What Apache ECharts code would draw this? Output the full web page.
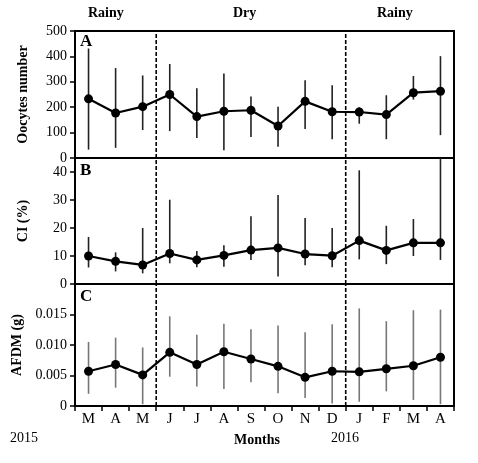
<!DOCTYPE html>
<html><head><meta charset="utf-8">
<script src="https://cdn.jsdelivr.net/npm/echarts@6/dist/echarts.min.js"></script>
<style>html,body{margin:0;padding:0;background:#fff}#c{width:478px;height:463px}</style>
</head><body><div id="c"></div>
<script>
const months = ['M','A','M','J','J','A','S','O','N','D','J','F','M','A'];
const oocytes = [233,177,202,250,163,184,188,126,223,182,181,171,257,263];
const oocytesHi = [431,354,325,370,275,333,242,202,306,286,200,247,323,401];
const oocytesLo = [33,40,110,106,79,31,83,44,114,74,135,74,230,90];
const ci = [10,8.1,6.8,10.9,8.6,10.2,12.1,12.9,10.7,10.1,15.5,12,14.7,14.7];
const ciHi = [16.8,11.3,20,30.1,11.8,13.8,24.2,31.8,23.6,20,40.6,20.8,23.2,46];
const ciLo = [5.9,4.5,3.8,7.4,6,6.2,8.6,2.7,6.7,6,8.8,7.1,10,8.6];
const afdm = [0.0057,0.0068,0.0051,0.0088,0.0068,0.0089,0.0077,0.0065,0.0047,0.0057,0.0056,0.0061,0.0066,0.0080];
const afdmHi = [0.0105,0.0112,0.0096,0.0147,0.0117,0.0135,0.0126,0.0132,0.0121,0.0134,0.0160,0.0139,0.0157,0.0158];
const afdmLo = [0.0020,0.0030,0.0003,0.0048,0.0032,0.0028,0.0039,0.0021,0.0013,0.0004,0.0007,0.0024,0.0010,0.0003];
const dividers = [2, 9]; // season change after these month indexes

const font = 'Liberation Serif';
const chart = echarts.init(document.getElementById('c'));

const panels = [
  {name: 'Oocytes number', top: 31, height: 127, max: 500, interval: 100, v: oocytes, hi: oocytesHi, lo: oocytesLo, bar: '#222', fmt: v => v},
  {name: 'CI (%)', top: 158, height: 126, max: 45, interval: 10, v: ci, hi: ciHi, lo: ciLo, bar: '#222', fmt: v => v},
  {name: 'AFDM (g)', top: 284, height: 122, max: 0.02, interval: 0.005, v: afdm, hi: afdmHi, lo: afdmLo, bar: '#777', fmt: v => v === 0 ? '0' : v.toFixed(3)}
];

const grid = [], xAxis = [], yAxis = [], series = [];
panels.forEach((p, i) => {
  const last = i === 2;
  grid.push({left: 75, right: 24, top: p.top, height: p.height, show: true, borderColor: '#000', borderWidth: 2, backgroundColor: 'transparent'});
  xAxis.push({type: 'category', gridIndex: i, data: months, boundaryGap: true,
    axisLine: {lineStyle: {color: '#000', width: 2}},
    axisTick: {show: last, length: 5, lineStyle: {color: '#000', width: 1.5}},
    axisLabel: {show: last, color: '#000', fontFamily: font, fontSize: 15, margin: 6}});
  yAxis.push({type: 'value', gridIndex: i, min: 0, max: p.max, interval: p.interval, splitLine: {show: false},
    name: p.name, nameLocation: 'middle', nameGap: 45, nameRotate: 90,
    nameTextStyle: {color: '#000', fontFamily: font, fontWeight: 'bold', fontSize: 14},
    axisLine: {show: true, lineStyle: {color: '#000', width: 2}},
    axisTick: {show: true, length: 5, lineStyle: {color: '#000', width: 1.5}},
    axisLabel: {color: '#000', fontFamily: font, fontSize: 14, showMaxLabel: i === 0, formatter: p.fmt}});
  series.push({type: 'custom', xAxisIndex: i, yAxisIndex: i, z: 1,
    data: p.v.map((v, k) => [k, p.lo[k], p.hi[k]]),
    renderItem: (params, api) => {
      const a = api.coord([api.value(0), api.value(1)]);
      const b = api.coord([api.value(0), api.value(2)]);
      return {type: 'line', shape: {x1: a[0], y1: a[1], x2: b[0], y2: b[1]}, style: {stroke: p.bar, lineWidth: 1.6}};
    }, clip: true});
  series.push({type: 'line', xAxisIndex: i, yAxisIndex: i, data: p.v, symbol: 'circle', symbolSize: 9, z: 3,
    itemStyle: {color: '#000'}, lineStyle: {color: '#000', width: 2.2}});
  series.push({type: 'custom', xAxisIndex: i, yAxisIndex: i, z: 2,
    data: dividers.map(d => [d, 0]), encode: {x: 0, y: 1},
    renderItem: (params, api) => {
      const half = api.size([1, 0])[0] / 2;
      const a = api.coord([api.value(0), 0]);
      const b = api.coord([api.value(0), p.max]);
      return {type: 'line', shape: {x1: a[0] + half, y1: a[1], x2: b[0] + half, y2: b[1]}, style: {stroke: '#000', lineWidth: 1.6, lineDash: [4, 2]}};
    }});
});

const t = (text, x, y, size, bold) => ({type: 'text', left: x, top: y,
  style: {text: text, fill: '#000', font: (bold ? 'bold ' : '') + size + 'px "' + font + '"'}});

chart.setOption({
  animation: false,
  grid, xAxis, yAxis, series,
  graphic: [
    t('Rainy', 88, 6, 14, true), t('Dry', 233, 6, 14, true), t('Rainy', 377, 6, 14, true),
    t('A', 80, 33, 17, true), t('B', 80, 162, 17, true), t('C', 80, 288, 17, true),
    t('2015', 10, 431, 14, false), t('2016', 331, 431, 14, false), t('Months', 234, 433, 14, true)
  ]
});
</script></body></html>
